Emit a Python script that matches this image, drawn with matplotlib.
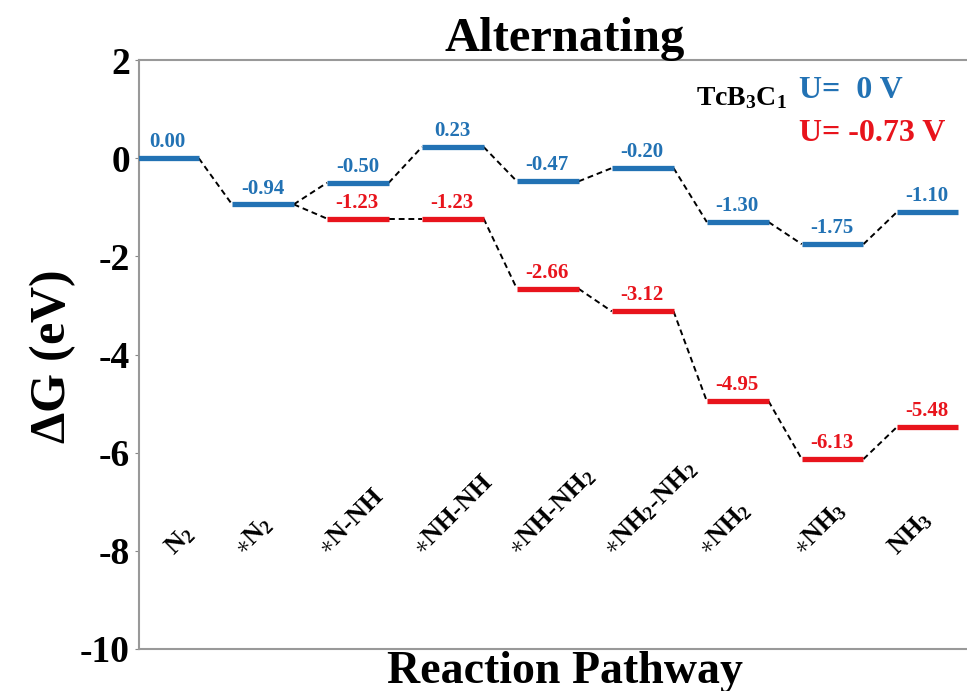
import matplotlib
matplotlib.use('Agg')
import matplotlib.pyplot as plt

plt.rcParams['font.family'] = ['Liberation Serif', 'DejaVu Serif']
plt.rcParams['font.weight'] = 'bold'
plt.rcParams['axes.unicode_minus'] = False
plt.rcParams['mathtext.fontset'] = 'custom'
plt.rcParams['mathtext.rm'] = 'Liberation Serif:bold'
plt.rcParams['mathtext.bf'] = 'Liberation Serif:bold'
plt.rcParams['mathtext.it'] = 'Liberation Serif:bold'
plt.rcParams['mathtext.default'] = 'bf'

# free energy levels (eV)
steps = [r'N$_2$', r'$\ast$N$_2$', r'$\ast$N-NH', r'$\ast$NH-NH',
         r'$\ast$NH-NH$_2$', r'$\ast$NH$_2$-NH$_2$', r'$\ast$NH$_2$',
         r'$\ast$NH$_3$', r'NH$_3$']
g_0V = [0.00, -0.94, -0.50, 0.23, -0.47, -0.20, -1.30, -1.75, -1.10]
# U = -0.73 V branch starts from the *N2 level
red_start = 1
g_073V = [-0.94, -1.23, -1.23, -2.66, -3.12, -4.95, -6.13, -5.48]

blue = '#2272b4'
red = '#e8141c'
seg_w = 0.65

fig = plt.figure(figsize=(9.67, 6.91), dpi=100)
ax = fig.add_axes([0.1437, 0.0608, 0.8563, 0.8522])


def draw_path(xs, ys, color, skip_first_label=False):
    for k, (x, y) in enumerate(zip(xs, ys)):
        if not (skip_first_label and k == 0):
            ax.plot([x - 0.02, x + seg_w - 0.02], [y, y], color=color, lw=3.8,
                    solid_capstyle='butt', zorder=3)
            ax.text(x + 0.3, y + 0.12, '%.2f' % y, color=color, ha='center',
                    va='bottom', fontsize=15, fontweight='bold')
        if k < len(xs) - 1:
            ax.plot([x + seg_w - 0.02, xs[k + 1] - 0.02], [y, ys[k + 1]], 'k--',
                    lw=1.4, dashes=(3, 2), zorder=2)


draw_path(list(range(len(g_0V))), g_0V, blue)
draw_path(list(range(red_start, red_start + len(g_073V))), g_073V, red,
          skip_first_label=True)

# rotated step labels inside the axes
for i, lab in enumerate(steps):
    dx = 0.37 if i == 0 else (0.1 if i == 1 else -0.02)
    ax.text(i + dx, -8.1, lab, rotation=45, rotation_mode='anchor',
            ha='left', va='baseline', fontsize=19, fontweight='bold')

ax.set_xlim(0, 8.72)
ax.set_ylim(-10, 2)
ax.set_yticks([2, 0, -2, -4, -6, -8, -10])
ax.set_xticks([])
ax.tick_params(axis='y', labelsize=27, length=3, color='#888888')
for t in ax.get_yticklabels():
    t.set_fontweight('bold')
for s in ['left', 'bottom', 'top']:
    ax.spines[s].set_color('#999999')
    ax.spines[s].set_linewidth(1.5)
ax.spines['right'].set_visible(False)

fig.text(0.584, 0.975, 'Alternating', ha='center', va='top', fontsize=35,
         fontweight='bold')
fig.text(0.584, 0.058, 'Reaction Pathway', ha='center', va='top', fontsize=33,
         fontweight='bold')
fig.text(0.054, 0.483, r'$\Delta$G (eV)', ha='center', va='center',
         rotation=90, fontsize=36, fontweight='bold')

ax.text(0.783, 0.935, r'TcB$_3$C$_1$', transform=ax.transAxes, ha='right',
        va='center', fontsize=20, fontweight='bold')
ax.text(0.797, 0.949, 'U=  0 V', transform=ax.transAxes, ha='left',
        va='center', fontsize=23, fontweight='bold', color=blue)
ax.text(0.797, 0.876, 'U= -0.73 V', transform=ax.transAxes, ha='left',
        va='center', fontsize=23, fontweight='bold', color=red)

fig.savefig('out.png', dpi=100)
